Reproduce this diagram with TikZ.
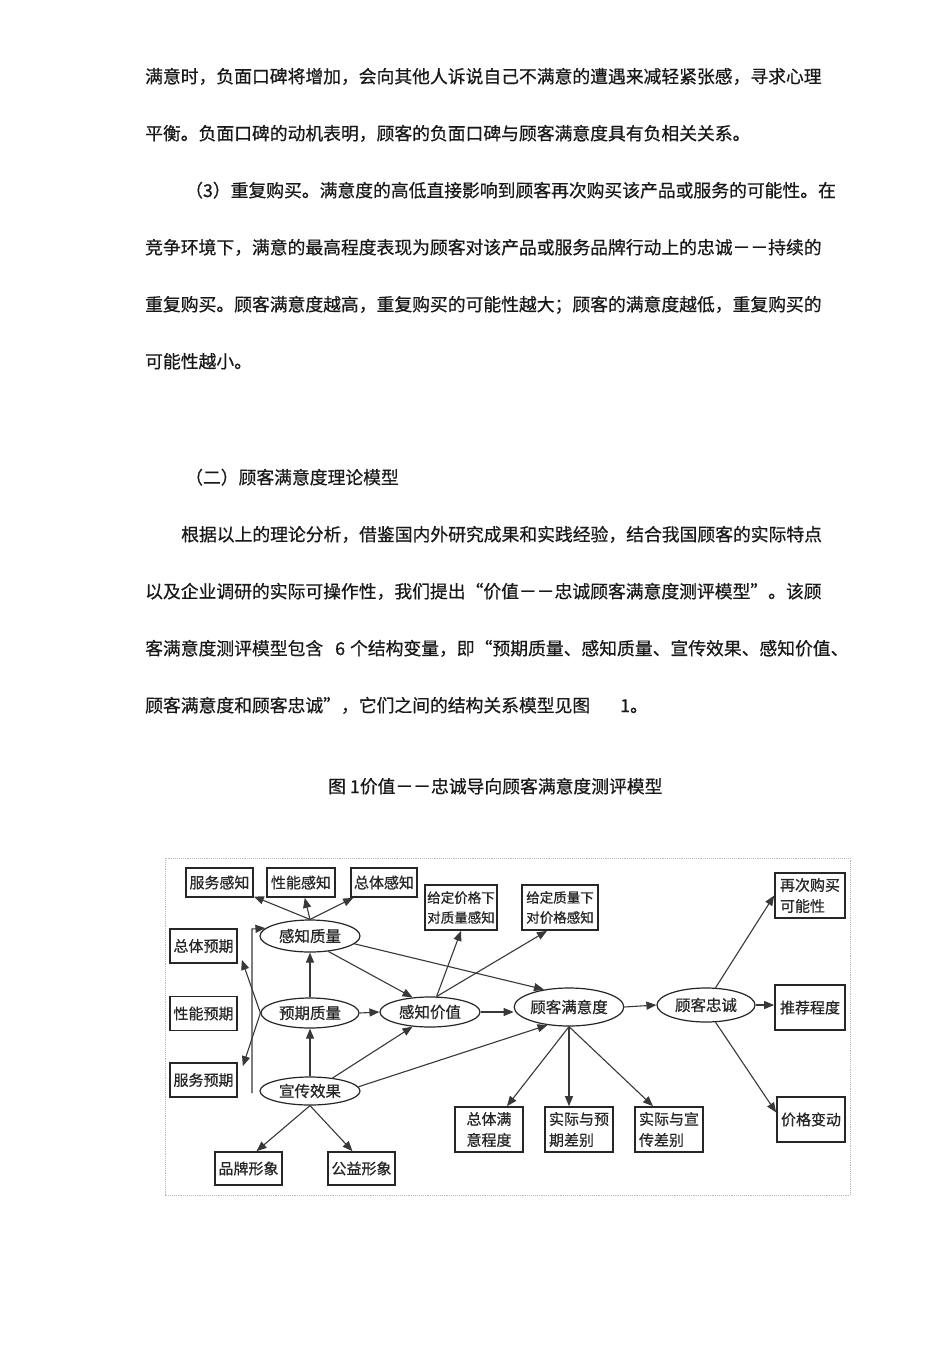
\documentclass[tikz,border=0pt]{standalone}
\usepackage{fontspec}
\setmainfont[FakeBold=0.6]{Noto Sans CJK SC}
\usetikzlibrary{arrows.meta,shapes.geometric}
\XeTeXlinebreaklocale "zh"
\XeTeXlinebreakskip=0pt plus 4pt
\begin{document}
\begin{tikzpicture}[x=1pt,y=-1pt,
  body/.style={anchor=base west, inner sep=0pt, font=\fontsize{17.8pt}{20pt}\selectfont, text=black!90},
  box/.style={draw=black!85, line width=1.7pt, inner sep=1pt, font=\fontsize{15pt}{21pt}\selectfont, text=black!85},
  boxtwo/.style={box, align=left, minimum height=45pt},
  oval/.style={ellipse, draw=black!85, line width=1.2pt, inner sep=0pt, font=\fontsize{15.5pt}{18pt}\selectfont, text=black!85},
  arr/.style={-{Triangle[length=10pt,width=8pt]}, line width=1.1pt, draw=black!78},
  ln/.style={line width=1.1pt, draw=black!78}]
\fill[white] (0,0) rectangle (950,1345);
\useasboundingbox (0,0) rectangle (950,1345);

% ---- paragraph 1
\node[body] (t1) at (145,83) {\makebox[677pt][s]{满意时，负面口碑将增加，会向其他人诉说自己不满意的遭遇来减轻紧张感，寻求心理}};
\node[body] (t2) at (145,140) {平衡。负面口碑的动机表明，顾客的负面口碑与顾客满意度具有负相关关系。};
\node[body] (t3) at (185,197) {（3）重复购买。满意度的高低直接影响到顾客再次购买该产品或服务的可能性。在};
\node[body] (t4) at (145,254) {竞争环境下，满意的最高程度表现为顾客对该产品或服务品牌行动上的忠诚－－持续的};
\node[body] (t5) at (145,311) {重复购买。顾客满意度越高，重复购买的可能性越大；顾客的满意度越低，重复购买的};
\node[body] (t6) at (145,368) {可能性越小。};

% ---- paragraph 2
\node[body] (h2) at (185,484) {（二）顾客满意度理论模型};
\node[body] (p1) at (181,541) {根据以上的理论分析，借鉴国内外研究成果和实践经验，结合我国顾客的实际特点};
\node[body] (p2) at (145,598) {以及企业调研的实际可操作性，我们提出“价值－－忠诚顾客满意度测评模型”。该顾};
\node[body] (p3) at (145,655) {客满意度测评模型包含\hspace{12pt}6\hspace{5pt}个结构变量，即“预期质量、感知质量、宣传效果、感知价值、};
\node[body] (p4) at (145,712) {顾客满意度和顾客忠诚”，它们之间的结构关系模型见图\hspace{30pt}1。};
\node[body] (cap) at (328,793) {图 1价值－－忠诚导向顾客满意度测评模型};

% ---- frame
\draw[gray!55, densely dotted, line width=0.9pt] (165,858) rectangle (850,1195);

% ---- boxes
\node[box, minimum width=67pt, minimum height=29pt] (sg) at (219.5,882.5) {服务感知};
\node[box, minimum width=68pt, minimum height=29pt] (xg) at (301,882.5) {性能感知};
\node[box, minimum width=66pt, minimum height=29pt] (zg) at (384,882.5) {总体感知};
\node[boxtwo, minimum width=72pt, font=\fontsize{13.5pt}{20pt}\selectfont] (jg) at (461,907.5) {给定价格下\\对质量感知};
\node[boxtwo, minimum width=76pt, font=\fontsize{13.5pt}{20pt}\selectfont] (zj) at (560,907.5) {给定质量下\\对价格感知};
\node[boxtwo, minimum width=70pt] (zcg) at (810,895.5) {再次购买\\可能性};
\node[box, minimum width=70pt, minimum height=45pt] (tj) at (810,1007.5) {推荐程度};
\node[box, minimum width=68pt, minimum height=45pt] (jb) at (811,1119.5) {价格变动};
\node[box, minimum width=67pt, minimum height=34pt] (zt) at (203.5,946) {总体预期};
\node[box, minimum width=67pt, minimum height=34pt] (xy) at (203.5,1013.5) {性能预期};
\node[box, minimum width=67pt, minimum height=34pt] (fy) at (203.5,1080) {服务预期};
\node[box, minimum width=67pt, minimum height=33pt] (pp) at (248.5,1168.5) {品牌形象};
\node[box, minimum width=67pt, minimum height=33pt] (gy) at (361.5,1168.5) {公益形象};
\node[boxtwo, minimum width=68pt, align=center] (zm) at (489,1129.5) {总体满\\意程度};
\node[boxtwo, minimum width=68pt] (sy) at (579,1129.5) {实际与预\\期差别};
\node[boxtwo, minimum width=68pt] (sx) at (669,1129.5) {实际与宣\\传差别};

% ---- ellipses
\node[oval, minimum width=100pt, minimum height=32pt] (gzl) at (310,936) {感知质量};
\node[oval, minimum width=98pt, minimum height=30pt] (yq) at (310,1013) {预期质量};
\node[oval, minimum width=100pt, minimum height=28pt] (xc) at (310,1091) {宣传效果};
\node[oval, minimum width=100pt, minimum height=30pt] (gjz) at (430,1012) {感知价值};
\node[oval, minimum width=107pt, minimum height=38pt] (gmy) at (569,1007) {顾客满意度};
\node[oval, minimum width=98pt, minimum height=34pt] (gzc) at (706,1005) {顾客忠诚};

% ---- connectors
\draw[arr] (gzl.north) -- (sg);
\draw[arr] (gzl.north) -- (xg);
\draw[arr] (gzl.north) -- (zg);
\draw[arr] (yq.north) -- (gzl.south);
\draw[arr] (gzl.-40) -- (gjz.140);
\draw[arr] (gzl.-10) -- (gmy.145);
\draw[arr] (yq.east) -- (gjz.west);
\draw[arr] (xc.north) -- (yq.south);
\draw[arr] (xc.30) -- (gjz.-140);
\draw[arr] (xc.5) -- (gmy.-140);
\draw[arr] (xc.south) -- ([xshift=8pt]pp.north);
\draw[arr] (xc.south) -- ([xshift=-9pt]gy.north);
\draw[arr] (gjz.67) -- (jg.south);
\draw[arr] (gjz.67) -- ([xshift=-13pt]zj.south);
\draw[arr] (gjz.east) -- (gmy.west |- gjz.east);
\draw[arr] (gmy.south) -- ([xshift=18pt]zm.north);
\draw[arr] (gmy.south) -- (gmy.south |- sy.north);
\draw[arr] (gmy.south) -- ([xshift=-16pt]sx.north);
\draw[arr] (gmy.east) -- (gzc.west);
\draw[arr] (gzc.61) -- (zcg.west);
\draw[arr] (gzc.east) -- (tj.west |- gzc.east);
\draw[arr] (gzc.-61) -- ([yshift=7pt]jb.west);
\draw[arr] (yq.west) -- ([xshift=4pt,yshift=4pt]zt.south east);
\draw[arr] (yq.west) -- ([xshift=5pt,yshift=-4pt]fy.north east);
\coordinate (vb) at (252,1093);
\coordinate (vt) at (252,929);
\draw[arr] (vb) -- (vt) -- (gzl.170);
\end{tikzpicture}
\end{document}
